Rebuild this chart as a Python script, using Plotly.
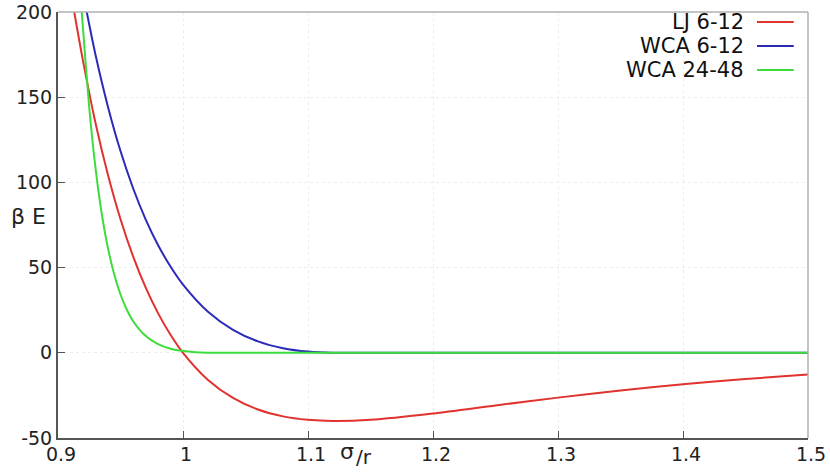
import plotly.graph_objects as go

# LJ 6-12
lj_x = [0.913, 0.92, 0.93, 0.94, 0.95, 0.96, 0.97, 0.98, 0.99, 1.00, 1.02, 1.04, 1.06, 1.08,
        1.10, 1.12, 1.15, 1.20, 1.25, 1.30, 1.35, 1.40, 1.45, 1.50]
lj_y = [200, 171.3, 134.9, 104.3, 78.4, 56.7, 38.5, 23.3, 10.6, 0.0, -15.9, -26.5, -33.3, -37.3,
        -39.3, -40.0, -39.3, -35.6, -30.9, -26.3, -22.1, -18.4, -15.4, -12.8]

# WCA 6-12
wca_x = [0.923, 0.93, 0.94, 0.95, 0.96, 0.97, 0.98, 0.99, 1.00, 1.02, 1.04, 1.06, 1.08, 1.10,
         1.12, 1.1225, 1.3, 1.5]
wca_y = [200, 174.9, 144.3, 118.4, 96.7, 78.5, 63.3, 50.6, 40.0, 24.1, 13.5, 6.7, 2.7, 0.7,
         0.0, 0.0, 0.0, 0.0]

# WCA 24-48
wca48_x = [0.919, 0.92, 0.925, 0.93, 0.935, 0.94, 0.945, 0.95, 0.955, 0.96, 0.97, 0.98, 0.99,
           1.00, 1.01, 1.02, 1.0293, 1.3, 1.5]
wca48_y = [200, 190.3, 143.8, 108.5, 81.6, 61.3, 45.9, 34.2, 25.4, 18.7, 9.95, 5.05, 2.39,
           1.0, 0.33, 0.06, 0.0, 0.0, 0.0]

x_ticks = [0.9, 1.0, 1.1, 1.2, 1.3, 1.4, 1.5]
x_tick_labels = ["0.9", "1", "1.1", "1.2", "1.3", "1.4", "1.5"]
y_ticks = [-50, 0, 50, 100, 150, 200]
y_tick_labels = ["-50", "0", "50", "100", "150", "200"]

names = ["LJ 6-12", "WCA 6-12", "WCA 24-48"]
colors = ["#e0322e", "#2b2bb8", "#3ddc3d"]

FONT = "DejaVu Sans"

fig = go.Figure()
for xs, ys, nm, c in [(lj_x, lj_y, names[0], colors[0]),
                      (wca_x, wca_y, names[1], colors[1]),
                      (wca48_x, wca48_y, names[2], colors[2])]:
    fig.add_trace(go.Scatter(x=xs, y=ys, mode="lines", name=nm,
                             line=dict(color=c, width=2, shape="spline", smoothing=0.8),
                             showlegend=False))

fig.update_layout(
    width=830, height=472,
    margin=dict(l=58, r=22, t=12, b=34, autoexpand=False),
    paper_bgcolor="white", plot_bgcolor="white",
    font=dict(family=FONT, size=19, color="#222"),
)
common = dict(showline=True, linecolor="#555", linewidth=2,
              ticks="inside", ticklen=7, tickcolor="#555",
              showgrid=True, gridcolor="#ededed", griddash="dot", gridwidth=1,
              zeroline=False, automargin=False,
              tickfont=dict(family=FONT, size=19, color="#222"))
fig.update_xaxes(range=[0.9, 1.5], tickvals=x_ticks, ticktext=x_tick_labels,
                 ticklabelstandoff=-2, ticklabelshift=3, **common)
fig.update_yaxes(range=[-50, 200], tickvals=y_ticks, ticktext=y_tick_labels,
                 ticklabelstandoff=0, **common)

# top and right frame lines (light gray)
fig.add_shape(type="line", xref="paper", yref="paper", x0=0, x1=1, y0=1, y1=1,
              line=dict(color="#b0b0b0", width=1.5))
fig.add_shape(type="line", xref="paper", yref="paper", x0=1, x1=1, y0=0, y1=1,
              line=dict(color="#b0b0b0", width=1.5))

# legend (text on left, line sample on right)
leg_y = [0.9765, 0.920, 0.864]
for nm, c, yy in zip(names, colors, leg_y):
    fig.add_annotation(text=nm, xref="paper", yref="paper", x=0.917, y=yy,
                       xanchor="right", yanchor="middle", showarrow=False,
                       font=dict(family=FONT, size=21, color="#111"))
    fig.add_shape(type="line", xref="paper", yref="paper", x0=0.932, x1=0.981, y0=yy, y1=yy,
                  line=dict(color=c, width=2))

# axis labels
fig.add_annotation(text="β E", xref="paper", yref="paper", x=-0.0387, y=0.519,
                   xanchor="center", yanchor="middle", showarrow=False,
                   font=dict(family=FONT, size=22, color="#222"))
fig.add_annotation(text="σ", xref="paper", yref="paper", x=0.3853, y=0.002,
                   xanchor="center", yanchor="top", showarrow=False,
                   font=dict(family=FONT, size=22, color="#222"))
fig.add_annotation(text="/r", xref="paper", yref="paper", x=0.408, y=-0.012,
                   xanchor="center", yanchor="top", showarrow=False,
                   font=dict(family=FONT, size=20, color="#222"))

fig.write_html("out.html")
